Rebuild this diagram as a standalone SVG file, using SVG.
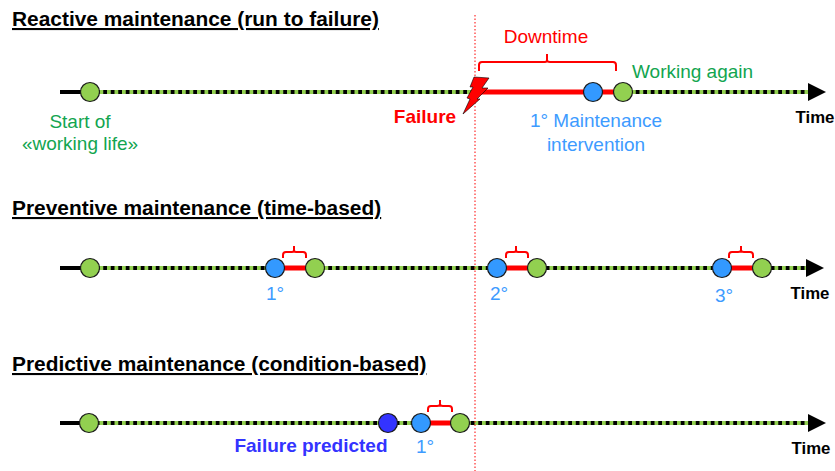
<svg xmlns="http://www.w3.org/2000/svg" width="835" height="471" viewBox="0 0 835 471">
<defs>
<style>
text{font-family:"Liberation Sans",Arial,sans-serif}
.h{font-size:20.9px;font-weight:700;fill:#000;text-decoration:underline}
.t{font-size:16.8px;font-weight:700;fill:#000}
.g{font-size:19px;fill:#12a550}
.b{font-size:19px;fill:#3d9bff}
.base{stroke:#000;stroke-width:4;fill:none}
.dash{stroke:#92d050;stroke-width:4;stroke-dasharray:3.75 3.75;fill:none}
.red{stroke:#f00;stroke-width:5;fill:none}
.br{stroke:#f00;stroke-width:2;fill:none}
.gc{fill:#92d050;stroke:#1a1a1a;stroke-width:1.2}
.bc{fill:#3399ff;stroke:#1a1a1a;stroke-width:1.2}
.dc{fill:#3333ff;stroke:#1a1a1a;stroke-width:1.2}
</style>
</defs>
<rect width="835" height="471" fill="#fff"/>
<g id="connectors">
<path class="base" d="M60 92H808"/><path class="dash" d="M99.5 92H808"/><path d="M808 83L826 92L808 101Z"/>
<path class="base" d="M60 268H808"/><path class="dash" d="M99.5 268H808"/><path d="M806 259L824 268L806 277Z"/>
<path class="base" d="M60 423H808"/><path class="dash" d="M99.5 423H808"/><path d="M808 414L826 423L808 432Z"/>
<path class="red" d="M478 92H623"/>
<path class="red" d="M275 268H315M497 268H537M722 268H762M421 423H460"/>
<path class="br" d="M479 71V65Q479 62 482 62H545Q547 62 547 60V54V60Q547 62 550 62H613Q616 62 616 65V71"/>
<path class="br" d="M283 258V255Q283 252 286 252H292Q294 252 294 250V246V250Q294 252 296 252H303Q306 252 306 255V258"/>
<path class="br" d="M506 258V255Q506 252 509 252H514Q516 252 516 250V246V250Q516 252 518 252H525Q528 252 528 255V258"/>
<path class="br" d="M729 258V255Q729 252 732 252H738Q741 252 741 250V246V250Q741 252 744 252H750Q753 252 753 255V258"/>
<path class="br" d="M428 412V409Q428 406 431 406H437Q440 406 440 404V400V404Q440 406 443 406H449Q452 406 452 409V412"/>
<path d="M475 15V471" stroke="#f00" stroke-width="1" stroke-dasharray="1.5 2" fill="none"/>
</g>
<g id="title-reactive"><text class="h" x="12" y="26">Reactive maintenance (run to failure)</text></g>
<g id="title-preventive"><text class="h" x="12" y="215">Preventive maintenance (time-based)</text></g>
<g id="title-predictive"><text class="h" x="12" y="371">Predictive maintenance (condition-based)</text></g>
<g id="failure-bolt"><path d="M474 77L489 78L482 88L488 88L477 99L480 99L463 114L470 99L467 98L473 87L470 87Z" fill="#f00" stroke="#000" stroke-width=".6"/></g>
<g id="n1"><circle class="gc" cx="90" cy="92" r="9.5"/></g>
<g id="n2"><circle class="bc" cx="593" cy="92" r="9.5"/></g>
<g id="n3"><circle class="gc" cx="623" cy="92" r="9.5"/></g>
<g id="n4"><circle class="gc" cx="90" cy="268" r="9.5"/></g>
<g id="n5"><circle class="bc" cx="275" cy="268" r="9.5"/></g>
<g id="n6"><circle class="gc" cx="315" cy="268" r="9.5"/></g>
<g id="n7"><circle class="bc" cx="497" cy="268" r="9.5"/></g>
<g id="n8"><circle class="gc" cx="537" cy="268" r="9.5"/></g>
<g id="n9"><circle class="bc" cx="722" cy="268" r="9.5"/></g>
<g id="n10"><circle class="gc" cx="762" cy="268" r="9.5"/></g>
<g id="n11"><circle class="gc" cx="89" cy="423" r="9.5"/></g>
<g id="n12"><circle class="dc" cx="388" cy="423" r="9.5"/></g>
<g id="n13"><circle class="bc" cx="421" cy="423" r="9.5"/></g>
<g id="n14"><circle class="gc" cx="460" cy="423" r="9.5"/></g>
<g id="labels">
<text class="g" x="80" y="128" text-anchor="middle">Start of</text>
<text class="g" x="80" y="150" text-anchor="middle">«working life»</text>
<text x="546" y="43" text-anchor="middle" font-size="19" fill="#f00">Downtime</text>
<text class="g" x="632" y="78">Working again</text>
<text x="425" y="123" text-anchor="middle" font-size="19" font-weight="700" fill="#f00">Failure</text>
<text class="b" x="596" y="127" text-anchor="middle">1° Maintenance</text>
<text class="b" x="596" y="151" text-anchor="middle">intervention</text>
<text class="t" x="815" y="123" text-anchor="middle">Time</text>
<text class="t" x="810" y="299" text-anchor="middle">Time</text>
<text class="t" x="811" y="454" text-anchor="middle">Time</text>
<text class="b" x="275" y="300" text-anchor="middle">1°</text>
<text class="b" x="499" y="300" text-anchor="middle">2°</text>
<text class="b" x="724" y="302" text-anchor="middle">3°</text>
<text x="311" y="452" text-anchor="middle" font-size="19" font-weight="700" fill="#3333ff">Failure predicted</text>
<text class="b" x="425" y="453" text-anchor="middle">1°</text>
</g>
</svg>
